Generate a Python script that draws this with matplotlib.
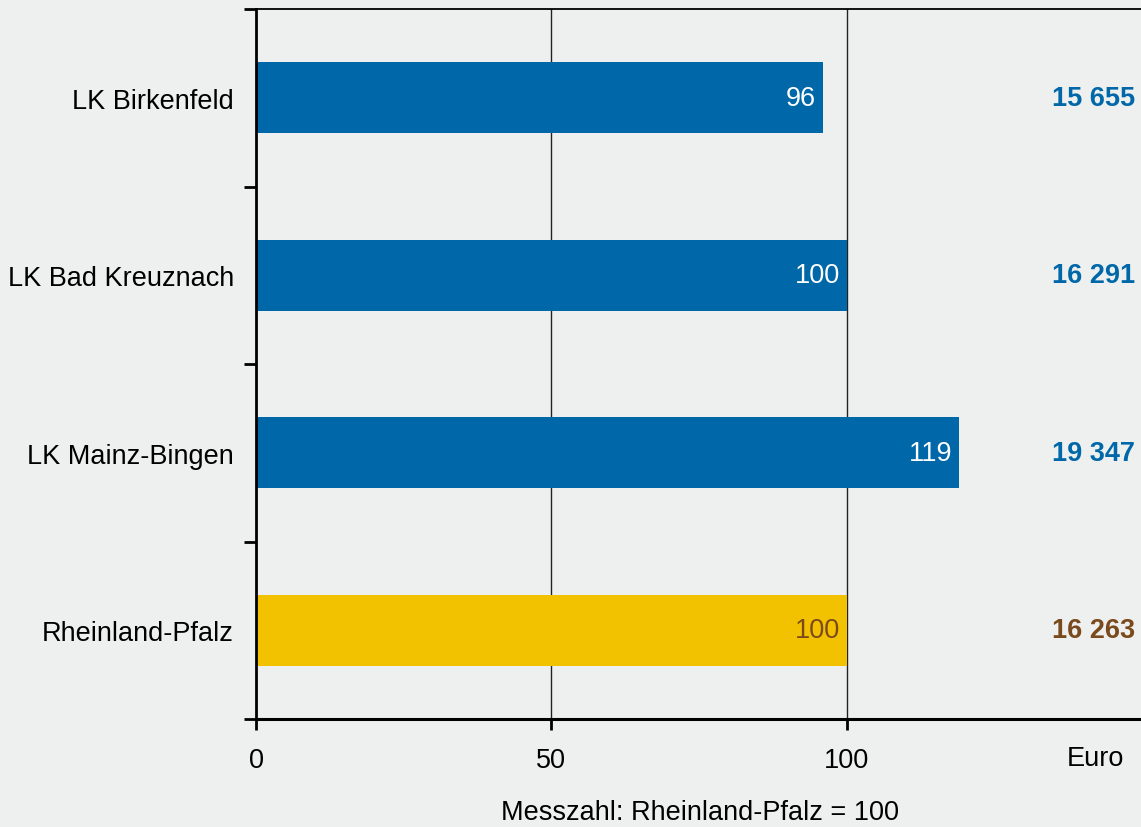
import matplotlib
matplotlib.use("Agg")
import matplotlib.pyplot as plt
from matplotlib.transforms import offset_copy

plt.rcParams['font.family'] = ['Liberation Sans', 'DejaVu Sans']

categories = ["LK Birkenfeld", "LK Bad Kreuznach", "LK Mainz-Bingen", "Rheinland-Pfalz"]
index_values = [96, 100, 119, 100]
euro_labels = ["15 655", "16 291", "19 347", "16 263"]
x_ticks = [0, 50, 100]

blue = "#0068a9"
yellow = "#f2c200"
brown = "#7b4a1c"
bg = "#eef0ef"

bar_colors = [blue, blue, blue, yellow]
inner_colors = ["white", "white", "white", brown]
euro_colors = [blue, blue, blue, brown]

FS = 19.5

fig = plt.figure(figsize=(11.41, 8.28), dpi=100, facecolor=bg)
ax = fig.add_axes([256 / 1141, 108 / 828, 1 - 256 / 1141, 710 / 828], facecolor=bg)

ypos = list(range(len(categories)))
ax.barh(ypos, index_values, height=0.4, color=bar_colors, zorder=3)

ax.set_xlim(0, 149.8)
ax.set_ylim(len(categories) - 0.5, -0.5)

for x in x_ticks[1:]:
    ax.axvline(x, color="#222222", lw=1.0, zorder=2)

for y, v, c in zip(ypos, index_values, inner_colors):
    t = offset_copy(ax.transData, fig=fig, x=-7, y=0, units='dots')
    ax.text(v, y, str(v), transform=t, ha="right", va="center",
            color=c, fontsize=FS, zorder=4)

for y, lab, c in zip(ypos, euro_labels, euro_colors):
    ax.text(0.9935, y, lab, transform=ax.get_yaxis_transform(), ha="right",
            va="center", color=c, fontsize=FS, fontweight="bold")

# category labels sit between boundary ticks
ax.set_yticks([y - 0.5 for y in ypos] + [len(categories) - 0.5])
ax.set_yticklabels([])
ax.set_yticks(ypos, minor=True)
ax.set_yticklabels(categories, minor=True, fontsize=FS)
ax.tick_params(axis="y", which="minor", length=0, pad=16)
ax.tick_params(axis="y", which="major", length=9, width=2, direction="out")

ax.set_xticks(x_ticks)
ax.set_xticklabels([str(x) for x in x_ticks], fontsize=FS)
ax.tick_params(axis="x", length=8, width=2, direction="out", pad=12)

ax.spines["right"].set_visible(False)
ax.spines["left"].set_linewidth(2)
ax.spines["bottom"].set_linewidth(2.2)
ax.spines["top"].set_linewidth(1.3)
ax.spines["left"].set_zorder(5)

fig.text(1095 / 1141, 1 - 759 / 828, "Euro", ha="center", va="center", fontsize=FS)
fig.text(700 / 1141, 1 - 813 / 828, "Messzahl: Rheinland-Pfalz = 100",
         ha="center", va="center", fontsize=FS)

fig.savefig("out.png", dpi=100, facecolor=bg)
